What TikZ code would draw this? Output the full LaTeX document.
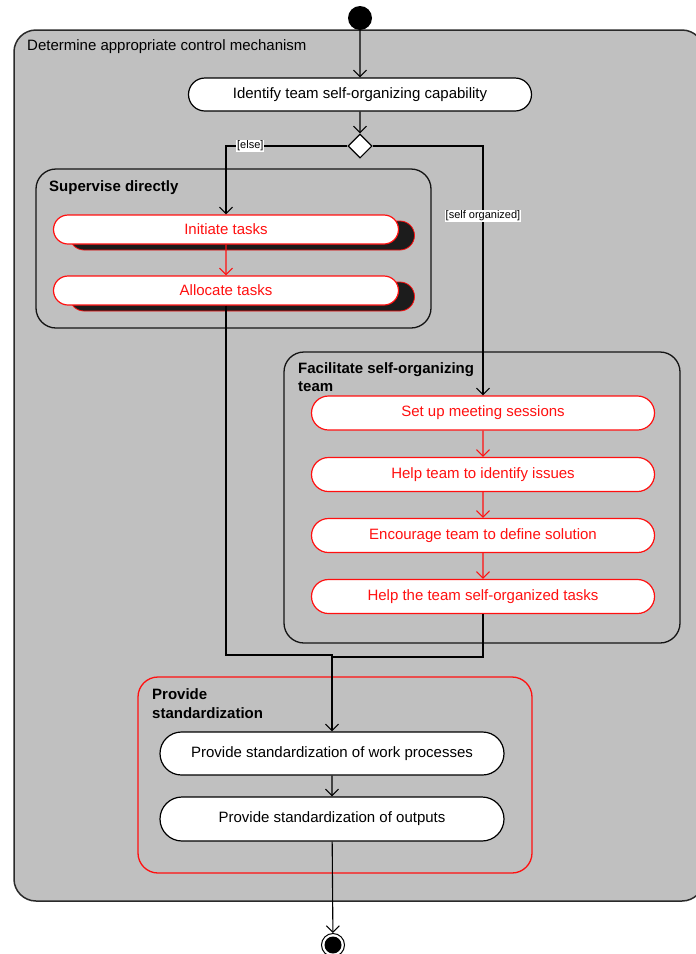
\documentclass[tikz,border=0pt]{standalone}
\usepackage{fontspec}
\setmainfont{Liberation Sans}
\usetikzlibrary{arrows.meta,shapes.geometric,shapes.misc,shadows}

\definecolor{panel}{HTML}{C0C0C0}
\definecolor{edgegray}{HTML}{2A2A2A}
\definecolor{framedark}{HTML}{141414}
\definecolor{umlred}{HTML}{FF1010}
\definecolor{shade}{HTML}{1C1C1C}

\begin{document}
\begin{tikzpicture}[x=1pt,y=-1pt,
  font=\fontsize{15}{18}\selectfont,
  tip/.tip={Straight Barb[length=6.5pt,width=13pt]},
  flow/.style={draw=black, line width=1.1pt, -tip},
  redflow/.style={draw=umlred, line width=1.1pt, -tip},
  plain/.style={draw=black, line width=1.1pt},
  act/.style={rounded rectangle, draw=black, line width=1.2pt, fill=white,
    inner sep=0pt, minimum height=#1},
  act/.default=34pt,
  redact/.style={act=#1, draw=umlred, text=umlred},
  redact/.default=34pt,
  shadowed/.style={general shadow={shadow xshift=16pt, shadow yshift=-6pt,
    fill=shade, draw=umlred, line width=0.8pt}},
  group/.style={draw=framedark, line width=1.3pt, rounded corners=20pt,
    inner sep=0pt},
  grouplbl/.style={anchor=north west, align=left, inner sep=0pt,
    font=\bfseries\fontsize{15}{18}\selectfont},
  guard/.style={fill=white, inner sep=0.8pt, font=\fontsize{11}{12}\selectfont}
]
\clip (0,0) rectangle (696,954);

% enclosing activity
\node[draw=edgegray, line width=1.5pt, fill=panel, rounded corners=22pt,
  minimum width=690pt, minimum height=871pt, inner sep=0pt] (outer) at (359,465.5) {};
\node[anchor=west, inner sep=0pt] (outerlbl) at (27,47) {Determine appropriate control mechanism};

% start, first action and decision
\node[circle, fill=black, minimum size=24pt, inner sep=0pt] (start) at (360,18) {};
\node[act=33pt, minimum width=343pt] (ident) at (360,94.5) {Identify team self-organizing capability};
\node[diamond, draw=black, fill=white, line width=1.1pt, minimum width=24pt,
  minimum height=24pt, inner sep=0pt] (dec) at (360,146) {};

% supervise directly
\node[group, minimum width=395pt, minimum height=159pt] (sup) at (233.5,248.5) {};
\node[grouplbl] (suplbl) at (49,180.5) {Supervise directly};
\node[redact=29pt, minimum width=345pt, shadowed] (init) at (226,229.5) {Initiate tasks};
\node[redact=29pt, minimum width=345pt, shadowed] (alloc) at (226,290.5) {Allocate tasks};

% facilitate self-organizing team
\node[group, minimum width=396pt, minimum height=291pt] (fac) at (482,497.5) {};
\node[grouplbl] (faclbl) at (298,362.5) {Facilitate self-organizing\\team};
\node[redact=34pt, minimum width=343pt] (setup) at (483,413) {Set up meeting sessions};
\node[redact=34pt, minimum width=343pt] (issues) at (483,474.5) {Help team to identify issues};
\node[redact=34pt, minimum width=343pt] (encourage) at (483,535.5) {Encourage team to define solution};
\node[redact=34pt, minimum width=343pt] (selforg) at (483,596.5) {Help the team self-organized tasks};

% provide standardization
\node[group, draw=umlred, minimum width=394pt, minimum height=196pt] (std) at (335,775) {};
\node[grouplbl, font=\bfseries\fontsize{15}{19}\selectfont] (stdlbl) at (152,688.5) {Provide\\standardization};
\node[act=43pt, minimum width=344pt] (work) at (332,753.5) {Provide standardization of work processes};
\node[act=44pt, minimum width=344pt] (outputs) at (332,819) {Provide standardization of outputs};

% final node
\node[circle, draw=black, line width=1pt, minimum size=23pt, inner sep=0pt] (final) at (333,945) {};
\node[circle, fill=black, minimum size=17pt, inner sep=0pt] (finaldot) at (333,945) {};

% junction points of the two branches
\coordinate (joinL) at (332,655);
\coordinate (joinR) at (332,657);

% connectors
\draw[flow] (start) -- (ident);
\draw[flow] (ident) -- (dec);
\draw[flow] (dec.west) -| (init.north) node[guard, pos=0.4] {[else]};
\draw[flow] (dec.east) -| (setup.north) node[guard, pos=0.64] {[self organized]};
\draw[redflow] (init) -- (alloc);
\draw[redflow] (setup) -- (issues);
\draw[redflow] (issues) -- (encourage);
\draw[redflow] (encourage) -- (selforg);
\draw[flow] (alloc.south) |- (joinL) -- (work.north);
\draw[plain] (selforg.south) |- (joinR);
\draw[flow] (work) -- (outputs);
\draw[flow] (outputs) -- (final);
\end{tikzpicture}
\end{document}
